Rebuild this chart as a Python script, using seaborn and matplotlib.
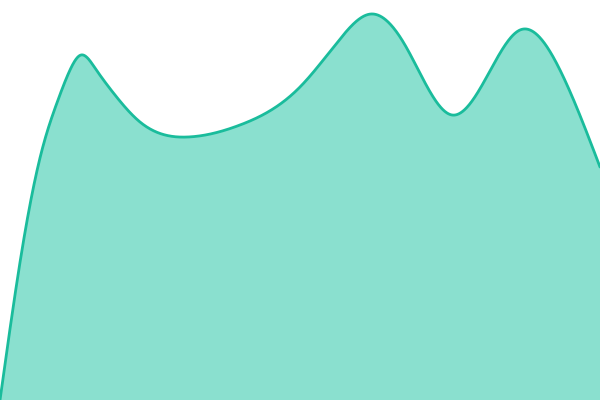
import matplotlib
matplotlib.use("Agg")
import matplotlib.pyplot as plt
import seaborn as sns
import numpy as np
import pandas as pd

# points (x in px, value = height above the bottom)
x_pts = [0, 22, 42, 58, 70, 81, 95, 115, 140, 188, 240, 300, 340, 371, 405, 452, 485, 520, 560, 600]
y_pts = [0, 150, 250, 300, 330, 345, 332, 305, 278, 263, 275, 313, 361, 386, 355, 285, 320, 370, 330, 233]

LINE = "#1abc9c"
FILL = "#8ae0cf"


def natural_spline(x, y, xs):
    x = np.asarray(x, float)
    y = np.asarray(y, float)
    n = len(x)
    h = np.diff(x)
    A = np.zeros((n, n))
    b = np.zeros(n)
    A[0, 0] = A[-1, -1] = 1
    for i in range(1, n - 1):
        A[i, i - 1] = h[i - 1]
        A[i, i] = 2 * (h[i - 1] + h[i])
        A[i, i + 1] = h[i]
        b[i] = 6 * ((y[i + 1] - y[i]) / h[i] - (y[i] - y[i - 1]) / h[i - 1])
    M = np.linalg.solve(A, b)
    idx = np.clip(np.searchsorted(x, xs) - 1, 0, n - 2)
    hi = h[idx]
    a = x[idx + 1] - xs
    c = xs - x[idx]
    return (M[idx] * a**3 / (6 * hi) + M[idx + 1] * c**3 / (6 * hi)
            + (y[idx] / hi - M[idx] * hi / 6) * a
            + (y[idx + 1] / hi - M[idx + 1] * hi / 6) * c)


xs = np.linspace(0, 600, 1200)
df = pd.DataFrame({"x": xs, "y": natural_spline(x_pts, y_pts, xs)})

sns.set_style("white")
fig = plt.figure(figsize=(6, 4), dpi=100)
ax = fig.add_axes([0, 0, 1, 1])
ax.fill_between(df["x"], 0, df["y"], color=FILL, linewidth=0)
sns.lineplot(data=df, x="x", y="y", ax=ax, color=LINE, linewidth=2.0)
ax.set_xlim(0, 600)
ax.set_ylim(0, 400)
ax.axis("off")
fig.savefig("out.png", dpi=100)
